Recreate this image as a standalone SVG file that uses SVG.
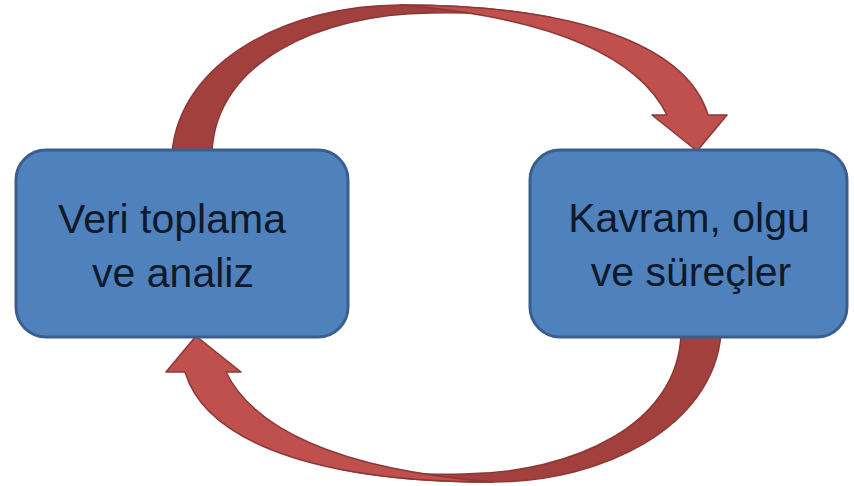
<svg xmlns="http://www.w3.org/2000/svg" xmlns:xlink="http://www.w3.org/1999/xlink" width="854" height="486" viewBox="0 0 854 486">
  <style>
    .box { fill: #4F81BD; stroke: #3A5F8E; stroke-width: 3; }
    .label { font-family: "Liberation Sans", Arial, sans-serif; font-size: 41px; fill: #0E1A2C; text-anchor: middle; }
    .back { fill: #A1403D; stroke: #8C3836; stroke-width: 1.5; stroke-linejoin: round; }
    .front { fill: #C0504D; stroke: #8C3836; stroke-width: 1.5; stroke-linejoin: round; }
  </style>
  <rect width="854" height="486" fill="#FFFFFF"/>
  <g id="connectors">
    <g id="arrow-top">
      <path class="back" d="M 172,153 C 180,60 290,5 400,5 C 460,5 510,9.5 551,17.6 L 540,22 C 500,14 470,12 430,13 C 320,14 215,62 212,153 Z"/>
      <path class="front" d="M 400,5 C 600,5 690,55 708,115 L 727,115 L 697,151 L 652,115 L 667,115 C 640,60 560,18 400,5 Z"/>
    </g>
    <use id="arrow-bottom" xlink:href="#arrow-top" href="#arrow-top" transform="rotate(180 446.5 243.5)"/>
  </g>
  <g id="node-veri">
    <rect class="box" x="16" y="150" width="332" height="187" rx="30" ry="30"/>
    <text class="label" x="172" y="233">Veri toplama</text>
    <text class="label" x="173" y="287">ve analiz</text>
  </g>
  <g id="node-kavram">
    <rect class="box" x="530" y="150" width="317" height="187" rx="30" ry="30"/>
    <text class="label" x="689" y="232">Kavram, olgu</text>
    <text class="label" x="691" y="286">ve süreçler</text>
  </g>
</svg>
